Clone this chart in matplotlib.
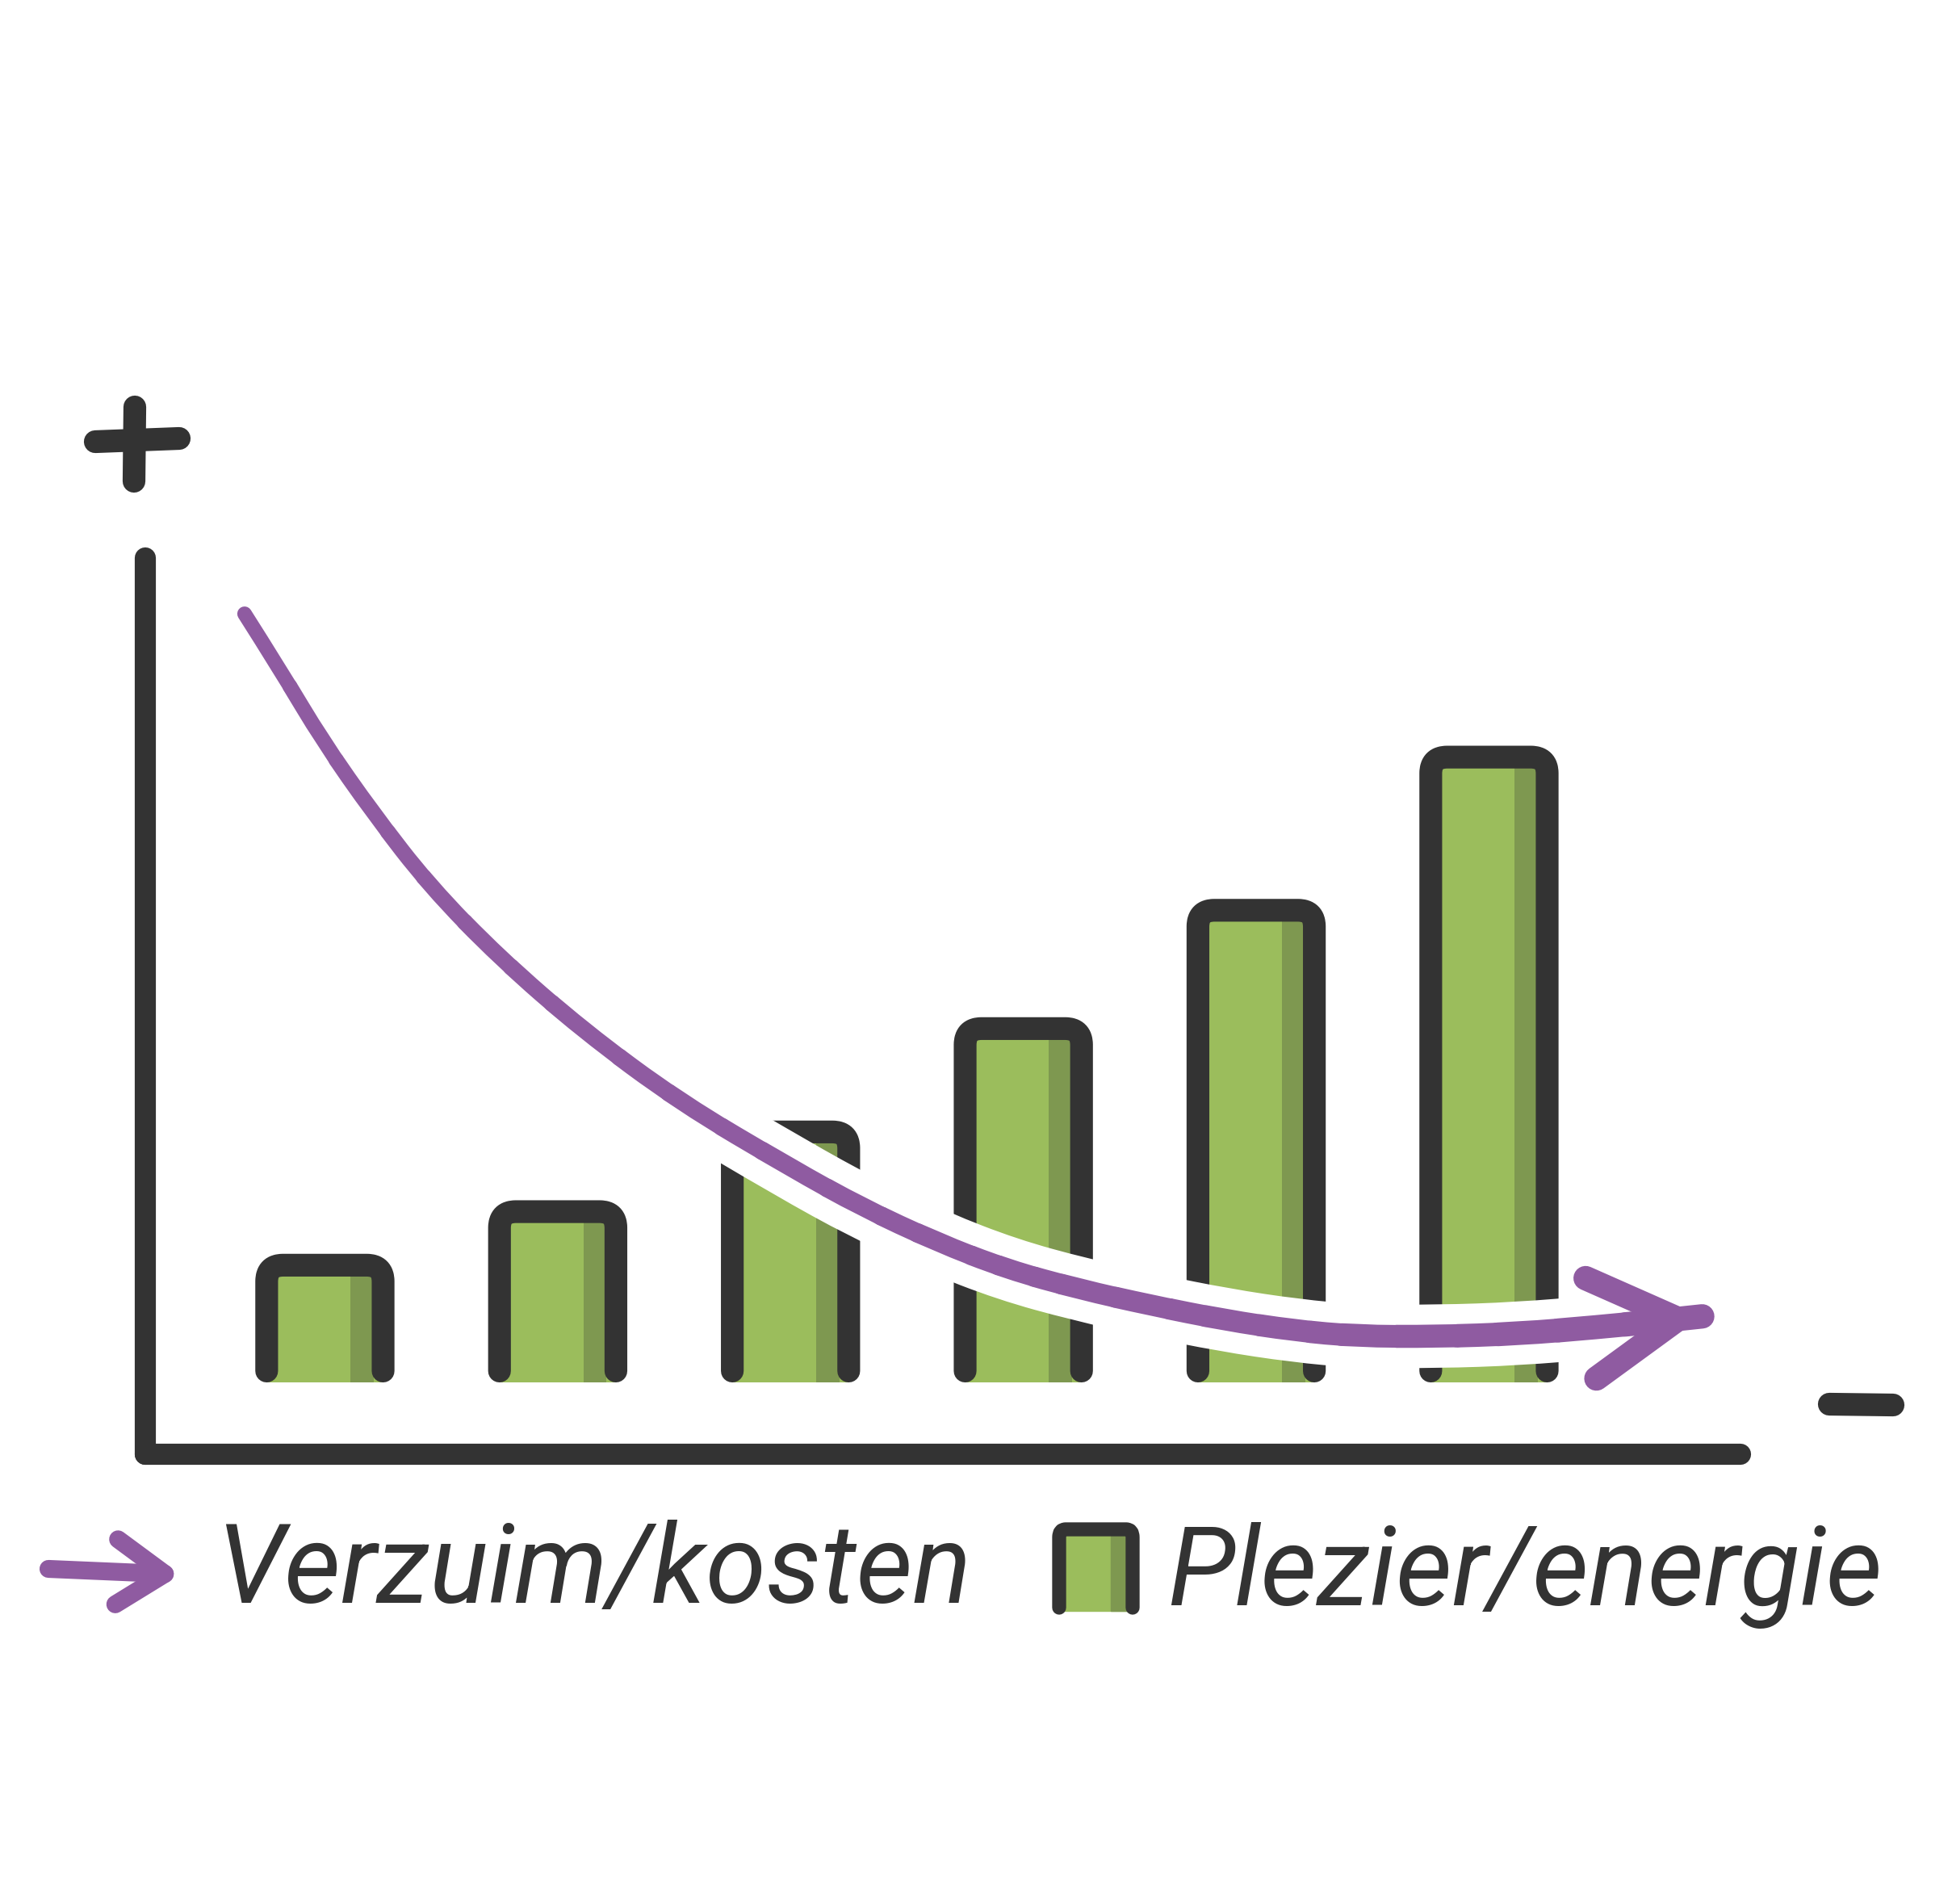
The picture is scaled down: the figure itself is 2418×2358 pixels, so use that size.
import numpy as np
import matplotlib
matplotlib.use("Agg")
import matplotlib.pyplot as plt
from matplotlib.patches import Rectangle, PathPatch
from matplotlib.path import Path

# --- data ----------------------------------------------------------------
bar_pos = [0, 1, 2, 3, 4, 5]
plezier = [0.94, 1.37, 2.01, 2.84, 3.79, 5.02]          # Plezier/energie

verzuim_x = [-0.345, -0.193, -0.007, 0.210, 0.450, 0.752, 1.108, 1.526, 2.003,
             2.313, 2.623, 2.932, 3.241, 3.551, 3.861, 4.170, 4.430, 4.778,
             5.124, 5.471, 5.702, 5.916]
verzuim_y = [6.171, 5.724, 5.143, 4.564, 3.985, 3.406, 2.827, 2.248, 1.720,
             1.400, 1.130, 0.906, 0.747, 0.617, 0.501, 0.414, 0.370, 0.367,
             0.389, 0.443, 0.486, 0.529]                  # Verzuim/kosten

labels = ["Verzuim/kosten", "Plezier/energie"]

DARK = "#333333"
GREEN = "#9bbd5c"
GREEN_D = "#7e9850"
PURPLE = "#8f5ba1"
FONT = ["Roboto", "DejaVu Sans"]
S = 1.45  # stroke scale

W, H = 2418, 2358
fig = plt.figure(figsize=(W / 100, H / 100), dpi=100)

# overlay in pixel units for the +/- signs and the legend
ov = fig.add_axes([0, 0, 1, 1])
ov.set_xlim(0, W)
ov.set_ylim(H, 0)
ov.axis("off")

# main chart
ax = fig.add_axes([0.0746, 0.2361, 0.8170, 0.4709])
ax.patch.set_alpha(0)
ax.set_xlim(-0.77, 6.08)
ax.set_ylim(-0.58, 6.62)
ax.set_xticks([])
ax.set_yticks([])
for s in ("top", "right"):
    ax.spines[s].set_visible(False)
for s in ("left", "bottom"):
    ax.spines[s].set_linewidth(13 * S)
    ax.spines[s].set_color(DARK)
    ax.spines[s].set_capstyle("round")


def open_box(x0, x1, y0, top, rx, ry):
    # left side, rounded top, right side; bottom left open
    verts = [(x0, y0), (x0, top - ry), (x0, top), (x0 + rx, top),
             (x1 - rx, top), (x1, top), (x1, top - ry), (x1, y0)]
    codes = [Path.MOVETO, Path.LINETO, Path.CURVE3, Path.CURVE3,
             Path.LINETO, Path.CURVE3, Path.CURVE3, Path.LINETO]
    return Path(verts, codes)


# bars
bw = 0.5
bars = ax.bar(bar_pos, plezier, width=bw, color=GREEN, zorder=2)
ax.bar(np.array(bar_pos) + bw / 2 - 0.09, np.array(plezier) - 0.08,
       width=0.10, color=GREEN_D, zorder=2.1)
for r in bars:
    x0, x1 = r.get_x(), r.get_x() + r.get_width()
    ax.add_patch(PathPatch(open_box(x0, x1, 0.09, r.get_height(), 0.07, 0.13),
                           fill=False, lw=14 * S, edgecolor=DARK,
                           capstyle="round", joinstyle="round", zorder=3))

# curve: smooth quadratic path through the read points, flattened in pixel space
pts = np.column_stack([verzuim_x, verzuim_y])
verts = [pts[0]]
codes = [Path.MOVETO]
for i in range(1, len(pts) - 1):
    end = pts[i + 1] if i == len(pts) - 2 else (pts[i] + pts[i + 1]) / 2
    verts += [pts[i], end]
    codes += [Path.CURVE3, Path.CURVE3]
px = Path(verts, codes).to_polygons(transform=ax.transData, closed_only=False)[0]
curve = ax.transData.inverted().transform(px)

ax.plot(curve[:, 0], curve[:, 1], color="white", lw=(15 + 24) * S,
        solid_capstyle="round", solid_joinstyle="round", zorder=4)
# drawn in many short pieces so the stroke gets gradually thicker
idx = np.array_split(np.arange(len(curve)), 30)
widths = np.linspace(9, 15, len(idx))
for ix, w in zip(idx, widths):
    seg = curve[max(ix[0] - 1, 0):ix[-1] + 1]
    ax.plot(seg[:, 0], seg[:, 1], color=PURPLE, lw=w * S,
            solid_capstyle="round", solid_joinstyle="round", zorder=5)
ax.annotate("", xy=(verzuim_x[-1], verzuim_y[-1]), xytext=(verzuim_x[-2], verzuim_y[-2]),
            arrowprops=dict(arrowstyle="->,head_length=3.9,head_width=2.25",
                            lw=15 * S, color=PURPLE, shrinkA=0, shrinkB=0,
                            mutation_scale=20, capstyle="round", joinstyle="round"),
            zorder=6)

# + and - at the axis ends
ov.plot([118, 222], [547, 543], lw=14 * S, color=DARK, solid_capstyle="round")
ov.plot([167, 166], [504, 596], lw=14 * S, color=DARK, solid_capstyle="round")
ov.plot([2266, 2345], [1739, 1740], lw=14 * S, color=DARK, solid_capstyle="round")

# legend
ov.annotate("", xy=(224, 1950), xytext=(60, 1943),
            arrowprops=dict(arrowstyle="->,head_length=4.3,head_width=2.9",
                            lw=11 * S, color=PURPLE, shrinkA=0, shrinkB=0,
                            mutation_scale=10, capstyle="round", joinstyle="round"))
t1 = ov.text(268, 1985, labels[0], fontsize=92, style="italic", family=FONT,
             color=DARK, ha="left", va="baseline")

ov.add_patch(Rectangle((1314, 1895), 88, 100, color=GREEN))
ov.add_patch(Rectangle((1376, 1902), 22, 93, color=GREEN_D))
ov.add_patch(PathPatch(open_box(1312, 1403, 1991, 1894, 8, -10), fill=False,
                       lw=8.6 * S, edgecolor=DARK, capstyle="round", joinstyle="round"))
t2 = ov.text(1446, 1988, labels[1], fontsize=92, style="italic", family=FONT,
             color=DARK, ha="left", va="baseline")

# fit the legend text to the width it takes in the picture
fig.canvas.draw()
rend = fig.canvas.get_renderer()
size = 92 * 935 / t1.get_window_extent(rend).width
t1.set_fontsize(size)
t2.set_fontsize(size)

fig.savefig("out.png", dpi=100)
